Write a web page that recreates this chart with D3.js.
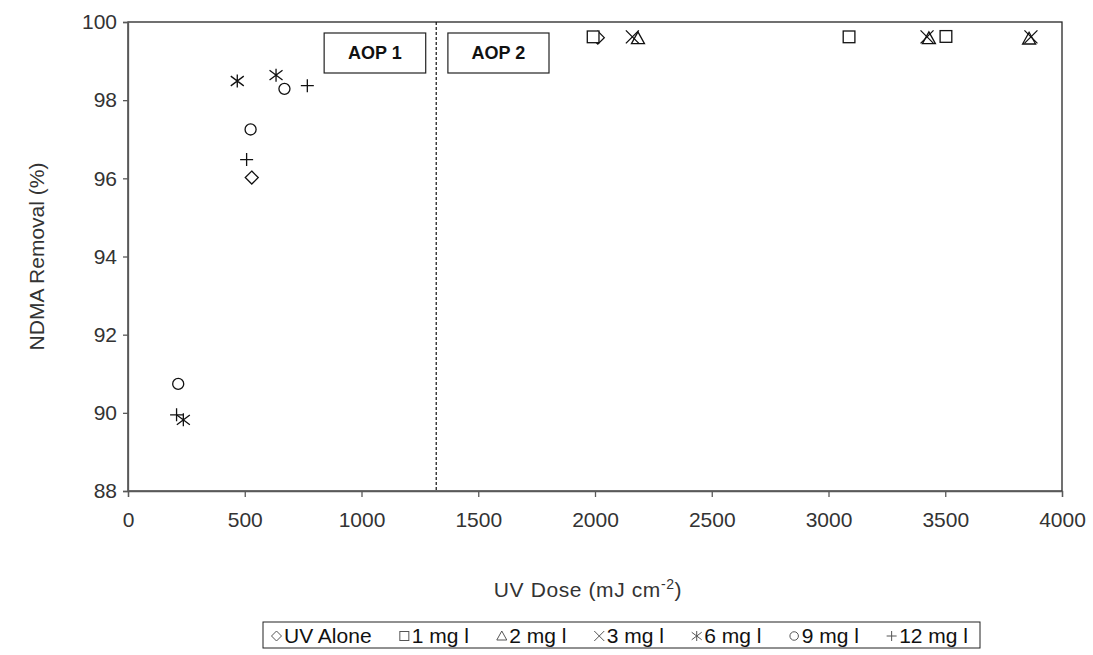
<!DOCTYPE html>
<html><head><meta charset="utf-8">
<script src="https://cdn.jsdelivr.net/npm/d3@7"></script>
<style>body{margin:0;background:#fff}svg{display:block}text{font-family:"Liberation Sans",Arial,sans-serif}</style>
</head><body><svg id="c" width="1093" height="655"></svg>
<script>
// ---- data ----
const seriesNames = ["UV Alone","1 mg l","2 mg l","3 mg l","6 mg l","9 mg l","12 mg l"];
const uvAloneX = [530, 2012];        const uvAloneY = [96.02, 99.6];
const mg1X = [1992, 3088, 3503];     const mg1Y = [99.62, 99.62, 99.63];
const mg2X = [2184, 3430, 3859];     const mg2Y = [99.58, 99.58, 99.57];
const mg3X = [2160, 3422, 3867];     const mg3Y = [99.62, 99.62, 99.62];
const mg6X = [468, 634, 237];        const mg6Y = [98.49, 98.64, 89.82];
const mg9X = [215, 525, 670];        const mg9Y = [90.74, 97.25, 98.29];
const mg12X = [208, 508, 768];       const mg12Y = [89.95, 96.48, 98.37];
const xTicks = [0,500,1000,1500,2000,2500,3000,3500,4000];
const yTicks = [88,90,92,94,96,98,100];
const aopBoundary = 1320;
const regionLabels = ["AOP 1","AOP 2"];

const W=1093,H=655, m={l:128,r:31,t:22,b:164};
const svg=d3.select("#c");
const x=d3.scaleLinear().domain([0,4000]).range([m.l,W-m.r]);
const y=d3.scaleLinear().domain([88,100]).range([H-m.b,m.t]);
const axisCol="#595959";
const fnt="Liberation Sans, Arial, sans-serif";

// plot border (top/right)
svg.append("rect").attr("x",x(0)).attr("y",y(100)).attr("width",x(4000)-x(0)).attr("height",y(88)-y(100))
  .attr("fill","none").attr("stroke","#262626").attr("stroke-width",1.3);

const gx=svg.append("g").attr("transform",`translate(0,${y(88)})`)
  .call(d3.axisBottom(x).tickValues(xTicks).tickFormat(d3.format("d")).tickSizeOuter(0).tickSize(6).tickPadding(15));
const gy=svg.append("g").attr("transform",`translate(${x(0)},0)`)
  .call(d3.axisLeft(y).tickValues(yTicks).tickFormat(d3.format("d")).tickSizeOuter(0).tickSize(5).tickPadding(6));
[gx,gy].forEach(g=>{
  g.selectAll("path,line").attr("stroke",axisCol).attr("stroke-width",1.3);
  g.selectAll("text").attr("font-size",21).attr("fill","#333").attr("font-family",fnt);
});

// boundary
svg.append("line").attr("x1",x(aopBoundary)).attr("x2",x(aopBoundary)).attr("y1",y(100)).attr("y2",y(88))
  .attr("stroke","#111").attr("stroke-width",1.2).attr("stroke-dasharray","3,2");

// AOP boxes
const boxes=[{x0:840,x1:1275},{x0:1370,x1:1803}];
boxes.forEach((b,i)=>{
  const bx=x(b.x0), bw=x(b.x1)-x(b.x0);
  svg.append("rect").attr("x",bx).attr("y",33).attr("width",bw).attr("height",40)
    .attr("fill","#fff").attr("stroke","#222").attr("stroke-width",1.2);
  svg.append("text").attr("x",bx+bw/2).attr("y",59).attr("text-anchor","middle")
    .attr("font-family","Lato, sans-serif").attr("font-weight","bold").attr("font-size",18).attr("fill","#111")
    .text(regionLabels[i]);
});

// axis titles
const xt=svg.append("text").attr("x",588).attr("y",597).attr("text-anchor","middle")
  .attr("font-size",21).attr("letter-spacing",0.6).attr("fill","#333");
xt.append("tspan").text("UV Dose (mJ cm");
xt.append("tspan").attr("font-size",14).attr("dy",-8).text("-2");
xt.append("tspan").attr("dy",8).text(")");
svg.append("text").attr("transform",`translate(44,${(y(88)+y(100))/2}) rotate(-90)`).attr("text-anchor","middle")
  .attr("font-size",21).attr("fill","#333").text("NDMA Removal (%)");

// markers
function marker(g,type,s){
  const h=s/2;
  if(type==="diamond") g.append("path").attr("d",`M0,${-h}L${h},0L0,${h}L${-h},0Z`).attr("fill","none");
  else if(type==="square") g.append("rect").attr("x",-h*0.9).attr("y",-h*0.9).attr("width",s*0.9).attr("height",s*0.9).attr("fill","#fff");
  else if(type==="triangle") g.append("path").attr("d",`M0,${-h}L${h},${h*0.8}L${-h},${h*0.8}Z`).attr("fill","none");
  else if(type==="x") g.append("path").attr("d",`M${-h},${-h}L${h},${h}M${-h},${h}L${h},${-h}`).attr("fill","none");
  else if(type==="star") g.append("path").attr("d",`M${-h},${-h*0.75}L${h},${h*0.75}M${-h},${h*0.75}L${h},${-h*0.75}M0,${-h}L0,${h}`).attr("fill","none");
  else if(type==="circle") g.append("circle").attr("r",h*0.85).attr("fill","none");
  else if(type==="plus") g.append("path").attr("d",`M${-h},0L${h},0M0,${-h}L0,${h}`).attr("fill","none");
  g.selectAll("*").attr("stroke","#111").attr("stroke-width",1.3);
}
const types=["diamond","square","triangle","x","star","circle","plus"];
const series=[[uvAloneX,uvAloneY],[mg1X,mg1Y],[mg2X,mg2Y],[mg3X,mg3Y],[mg6X,mg6Y],[mg9X,mg9Y],[mg12X,mg12Y]];
series.forEach(([xs,ys],i)=>{
  xs.forEach((v,j)=>{
    const g=svg.append("g").attr("transform",`translate(${x(v)},${y(ys[j])})`);
    marker(g,types[i],13);
  });
});

// legend
const boxX0=263, boxX1=980, padL=8, padR=12;
const legRect=svg.append("rect").attr("x",boxX0).attr("y",622).attr("width",boxX1-boxX0).attr("height",26)
  .attr("fill","none").attr("stroke","#222").attr("stroke-width",1);
const lg=svg.append("g");
const symW=11;
const gs=[], widths=[];
seriesNames.forEach((n,i)=>{
  const g=lg.append("g");
  const sg=g.append("g").attr("transform",`translate(${symW/2},-7)`);
  marker(sg,types[i],10);
  sg.selectAll("*").attr("stroke","#555").attr("stroke-width",1);
  const t=g.append("text").attr("x",symW+2).attr("y",0).attr("font-size",21).attr("fill","#111").text(n);
  gs.push(g); widths.push(symW+2+t.node().getComputedTextLength());
});
const avail=(boxX1-boxX0)-padL-padR;
const gap=(avail-d3.sum(widths))/(seriesNames.length-1);
let cx=boxX0+padL;
gs.forEach((g,i)=>{ g.attr("transform",`translate(${cx},643)`); cx+=widths[i]+gap; });
</script></body></html>
